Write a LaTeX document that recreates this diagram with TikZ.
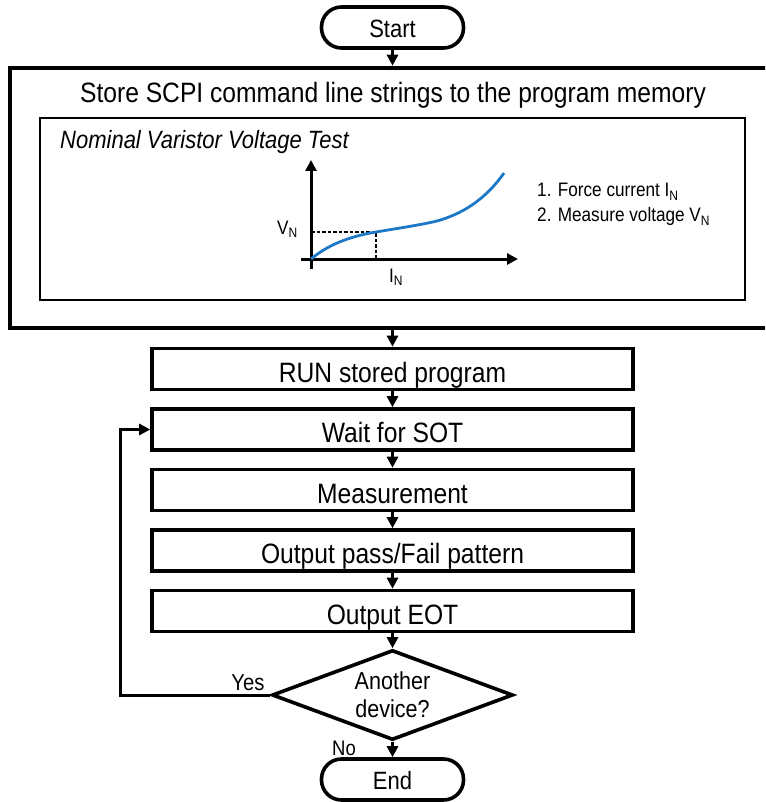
\documentclass[tikz,border=0pt]{standalone}
\usepackage{fontspec}
\setmainfont[FakeStretch=0.88]{Liberation Sans}
\usepackage{xcolor}
\usepackage{tikz}
\usetikzlibrary{arrows.meta}
\usetikzlibrary{calc}
\usetikzlibrary{shapes.geometric}
\definecolor{curveblue}{RGB}{30,120,200}

\begin{document}
\begin{tikzpicture}[x=1pt, y=-1pt, >={Triangle[length=11pt,width=11pt]},
    stepbox/.style={draw=black, line width=3.6pt, minimum width=481pt, minimum height=41pt,
      text height=26pt, text depth=0pt, font=\fontsize{28}{32}\selectfont},
    term/.style={draw=black, line width=3.6pt, rounded corners=20pt, minimum width=142pt,
      minimum height=41pt, text height=20pt, text depth=0pt, font=\fontsize{25}{28}\selectfont},
    decide/.style={draw=black, diamond, aspect=2.68, line width=3.6pt, minimum width=241pt,
      minimum height=90pt, inner sep=0pt, align=center, font=\fontsize{24.5}{28}\selectfont},
    small/.style={inner sep=0pt, font=\fontsize{19.5}{25}\selectfont},
    flow/.style={->, line width=3pt}]
    \useasboundingbox (0,0) rectangle (765,802);
    \clip (0,0) rectangle (765,802);

    \node[term] (start) at (392.5,27.5) {Start};
    \node[draw=black, line width=4.5pt, minimum width=765pt, minimum height=260pt] (store) at (392.5,198) {};
    \node[anchor=base, font=\fontsize{28}{32}\selectfont] (storetitle) at (393,103) {Store SCPI command line strings to the program memory};
    \node[draw=black, line width=2.5pt, minimum width=705pt, minimum height=182pt] (test) at (392.5,209) {};
    \node[anchor=base west, inner sep=0pt, font=\fontsize{25}{30}\selectfont\itshape] (testname) at (60,149) {Nominal Varistor Voltage Test};

    \coordinate (origin) at (311,259);
    \draw[->, line width=3pt] (311,269) -- (311,160);
    \draw[->, line width=3pt] (301,259) -- (518,259);
    \draw[line width=2pt, dash pattern=on 3.5pt off 2pt] (origin |- 0,232) -- (376,232) -- (376,259);
    \draw[curveblue, line width=2.8pt] (origin) .. controls (322,250) and (340,238) .. (376,232)
      .. controls (400,228) and (420,225) .. (437,221)
      .. controls (462,214) and (485,200) .. (504,173);
    \node[small, anchor=base east] (vn) at (298,234) {V\textsubscript{N}};
    \node[small, anchor=base] (in) at (396,282) {I\textsubscript{N}};
    \node[small, anchor=base west] (force) at (537,197) {1. Force current I\textsubscript{N}};
    \node[small, anchor=base west] (measure) at (537,222) {2. Measure voltage V\textsubscript{N}};

    \node[stepbox] (run) at (392.5,369) {RUN stored program};
    \node[stepbox] (wait) at (392.5,429.5) {Wait for SOT};
    \node[stepbox] (meas) at (392.5,490) {Measurement};
    \node[stepbox] (pattern) at (392.5,550.5) {Output pass/Fail pattern};
    \node[stepbox] (eot) at (392.5,611) {Output EOT};
    \node[decide] (device) at (392.5,695) {Another\\device?};
    \node[term] (end) at (392.5,779.5) {End};
    \node[anchor=base, font=\fontsize{23}{26}\selectfont] (yes) at (248,690) {Yes};
    \node[anchor=base, font=\fontsize{21}{24}\selectfont] (no) at (344,755) {No};
    \coordinate (back) at (120,429.5);

    \path [flow] (start) edge (store);
    \path [flow] (store) edge (run);
    \path [flow] (run) edge (wait);
    \path [flow] (wait) edge (meas);
    \path [flow] (meas) edge (pattern);
    \path [flow] (pattern) edge (eot);
    \path [flow] (eot) edge (device);
    \path [flow] (device) edge (end);
    \draw [flow] (device.west) -| (back) -- (wait.west);
  \end{tikzpicture}
\end{document}
